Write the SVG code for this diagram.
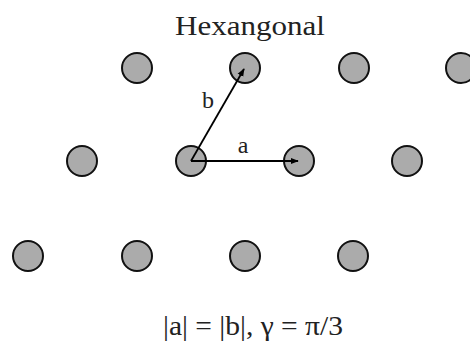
<svg xmlns="http://www.w3.org/2000/svg" width="470" height="343" viewBox="0 0 470 343">
<style>
.pt{fill:#ababab;stroke:#111;stroke-width:2}
.lbl{font-family:"Liberation Serif","Times New Roman",serif;fill:#222}
.vec{stroke:#000;stroke-width:1.8;fill:none}
</style>
<defs>
<marker id="ah" viewBox="0 0 10 10" refX="9" refY="5" markerWidth="8" markerHeight="8" orient="auto" markerUnits="userSpaceOnUse">
<path d="M0,1 L10,5 L0,9 z" fill="#000"/>
</marker>
</defs>
<rect width="470" height="343" fill="#fff"/>
<text class="lbl" x="250" y="35" font-size="28" text-anchor="middle" textLength="150" lengthAdjust="spacingAndGlyphs">Hexangonal</text>
<g id="r1c1"><circle class="pt" cx="137" cy="68" r="15"/></g>
<g id="r1c2"><circle class="pt" cx="245" cy="68" r="15"/></g>
<g id="r1c3"><circle class="pt" cx="354" cy="68" r="15"/></g>
<g id="r1c4"><circle class="pt" cx="461" cy="68" r="15"/></g>
<g id="r2c1"><circle class="pt" cx="82" cy="161" r="15"/></g>
<g id="r2c2"><circle class="pt" cx="191" cy="161" r="15"/></g>
<g id="r2c3"><circle class="pt" cx="299" cy="161" r="15"/></g>
<g id="r2c4"><circle class="pt" cx="407" cy="161" r="15"/></g>
<g id="r3c1"><circle class="pt" cx="28" cy="256" r="15"/></g>
<g id="r3c2"><circle class="pt" cx="137" cy="256" r="15"/></g>
<g id="r3c3"><circle class="pt" cx="245" cy="256" r="15"/></g>
<g id="r3c4"><circle class="pt" cx="353" cy="256" r="15"/></g>
<g id="connectors">
<line class="vec" x1="191" y1="161" x2="298" y2="161" marker-end="url(#ah)"/>
<line class="vec" x1="191" y1="161" x2="244" y2="69" marker-end="url(#ah)"/>
</g>
<text class="lbl" x="243" y="153" font-size="24" text-anchor="middle">a</text>
<text class="lbl" x="208" y="108" font-size="24" text-anchor="middle">b</text>
<text class="lbl" x="253" y="335" font-size="28" text-anchor="middle" textLength="180" lengthAdjust="spacingAndGlyphs">|a| = |b|, γ = π/3</text>
</svg>
